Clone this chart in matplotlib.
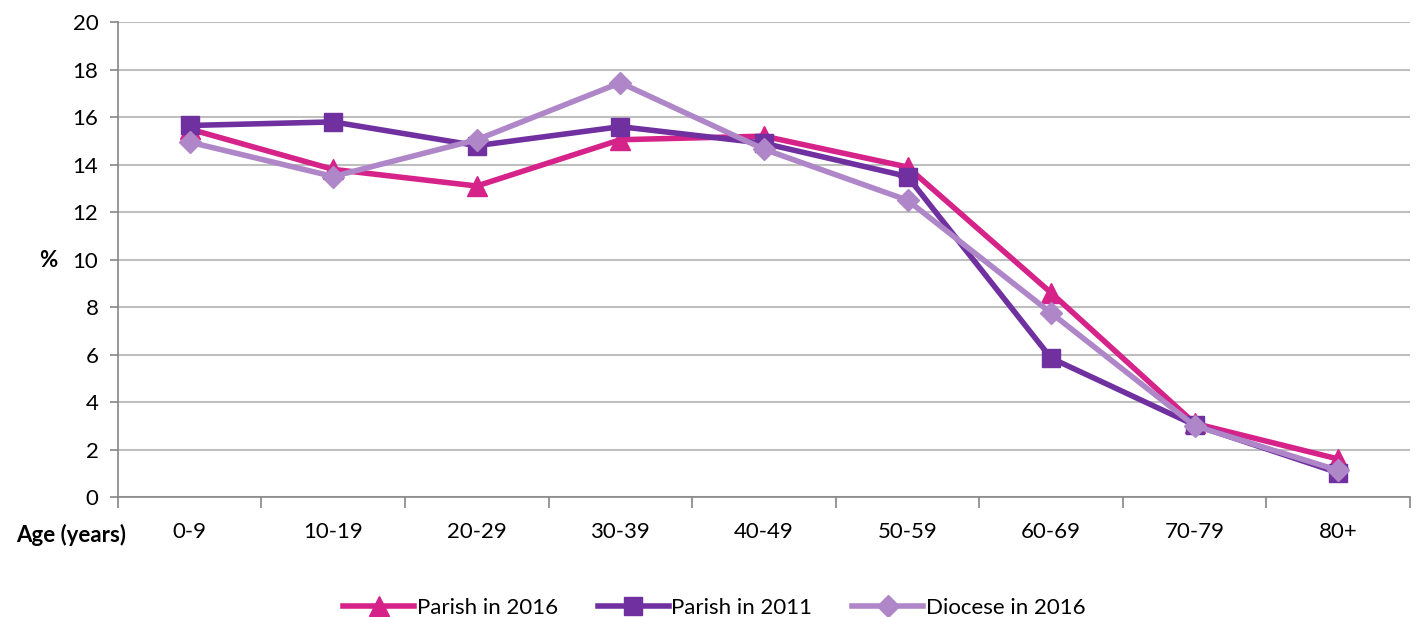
import numpy as np
import matplotlib.pyplot as plt

plt.rcParams['font.family'] = ['Lato', 'DejaVu Sans']

age_groups = ['0-9', '10-19', '20-29', '30-39', '40-49', '50-59', '60-69', '70-79', '80+']
parish_2016 = [15.5, 13.8, 13.1, 15.05, 15.2, 13.9, 8.6, 3.1, 1.6]
parish_2011 = [15.65, 15.8, 14.8, 15.6, 14.9, 13.5, 5.85, 3.03, 1.02]
diocese_2016 = [14.95, 13.5, 15.05, 17.45, 14.65, 12.5, 7.75, 3.0, 1.12]

fig = plt.figure(figsize=(14.2, 6.17), dpi=100)
ax = fig.add_axes([0.083, 0.1945, 0.91, 0.7695])

x = np.arange(len(age_groups))
ax.plot(x, parish_2016, color='#D6238A', lw=4, marker='^', ms=14, label='Parish in 2016', zorder=3)
ax.plot(x, parish_2011, color='#7030A0', lw=4, marker='s', ms=13, label='Parish in 2011', zorder=4)
ax.plot(x, diocese_2016, color='#AF87C9', lw=4, marker='D', ms=11, label='Diocese in 2016', zorder=5)

ax.set_xlim(-0.5, len(age_groups) - 0.5)
ax.set_ylim(0, 20)
ax.set_yticks(range(0, 21, 2))
ax.yaxis.grid(True, color='#BFBFBF', lw=1.5)
ax.set_axisbelow(True)

ax.set_xticks(x)
ax.set_xticklabels(age_groups, fontsize=16)
ax.set_xticks(np.arange(-0.5, len(age_groups)), minor=True)
ax.tick_params(axis='x', which='major', length=0, pad=18)
ax.tick_params(axis='x', which='minor', length=8, color='#868686', width=1.2)
ax.tick_params(axis='y', length=6, color='#868686', width=1.2, labelsize=16, pad=8)

for s in ['top', 'right']:
    ax.spines[s].set_visible(False)
for s in ['left', 'bottom']:
    ax.spines[s].set_color('#868686')
    ax.spines[s].set_linewidth(1.2)

fig.text(0.05, 0.133, 'Age (years)', fontsize=16, fontweight='bold', ha='center', va='center')
fig.text(0.034, 0.578, '%', fontsize=16, fontweight='bold', ha='center', va='center')

fig.legend(loc='upper center', bbox_to_anchor=(0.503, 0.063), ncol=3, frameon=False,
           fontsize=16, handlelength=3.2, handletextpad=0.1, columnspacing=1.8)

plt.savefig('out.png')
plt.close()
